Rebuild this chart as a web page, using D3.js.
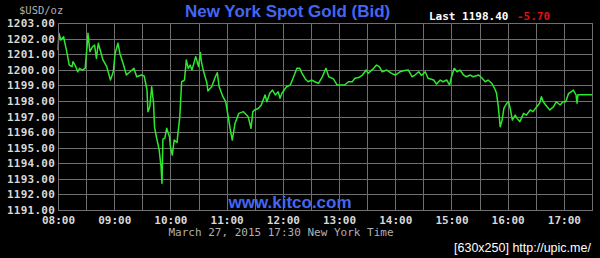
<!DOCTYPE html>
<html>
<head>
<meta charset="utf-8">
<script src="https://cdn.jsdelivr.net/npm/d3@7"></script>
<style>
  html, body { margin: 0; padding: 0; background: #000; }
  svg { display: block; }
</style>
</head>
<body>
<div id="wrapper"></div>
<script>
// Spot gold bid, March 27 2015, New York time
const times = [
  '08:00','08:01','08:03','08:06','08:07','08:09','08:12','08:15','08:16','08:19',
  '08:21','08:23','08:26','08:29','08:31','08:32','08:34','08:37','08:39','08:41',
  '08:43','08:45','08:48','08:52','08:56','08:59','09:01','09:04','09:06','09:10',
  '09:13','09:17','09:21','09:24','09:29','09:32','09:35','09:36','09:38','09:40',
  '09:42','09:43','09:45','09:48','09:50','09:51','09:52','09:54','09:56','09:59',
  '10:00','10:02','10:04','10:07','10:08','10:10','10:12','10:15','10:17','10:19',
  '10:21','10:23','10:25','10:27','10:30','10:32','10:33','10:35','10:39','10:40',
  '10:44','10:48','10:50','10:52','10:56','10:59','11:02','11:04','11:06','11:09',
  '11:13','11:18','11:23','11:26','11:28','11:30','11:34','11:37','11:41','11:43',
  '11:46','11:49','11:52','11:55','11:57','11:59','12:04','12:08','12:11','12:15',
  '12:18','12:20','12:24','12:27','12:31','12:34','12:38','12:42','12:46','12:49',
  '12:54','12:58','13:03','13:06','13:10','13:14','13:17','13:21','13:25','13:29',
  '13:31','13:37','13:40','13:43','13:46','13:51','13:56','14:00','14:05','14:10',
  '14:14','14:18','14:21','14:25','14:28','14:32','14:35','14:41','14:44','14:48',
  '14:51','14:55','14:58','15:00','15:03','15:06','15:09','15:13','15:16','15:20',
  '15:23','15:29','15:32','15:36','15:39','15:43','15:46','15:48','15:50','15:52',
  '15:54','15:56','15:59','16:01','16:03','16:05','16:08','16:10','16:13','16:17',
  '16:20','16:24','16:27','16:31','16:34','16:36','16:38','16:42','16:45','16:49',
  '16:52','16:56','16:59','17:02','17:05','17:08','17:10','17:13','17:14','17:15',
  '17:30'
]
const prices = [
  1201.27,1202.34,1201.91,1202.12,1201.80,1201.27,1200.30,1200.20,1200.52,1200.20,
  1199.87,1200.09,1199.98,1200.09,1201.48,1202.34,1201.16,1201.48,1201.59,1200.73,
  1201.70,1201.27,1200.63,1200.20,1199.34,1199.87,1201.06,1201.70,1201.06,1200.30,
  1199.66,1199.87,1200.09,1199.55,1199.66,1199.60,1198.70,1197.31,1197.63,1198.91,
  1197.85,1196.34,1195.70,1194.85,1193.78,1192.71,1195.55,1195.60,1196.24,1195.70,
  1195.06,1194.53,1195.49,1195.33,1195.88,1196.99,1199.23,1199.34,1200.63,1200.09,
  1200.30,1199.98,1200.41,1200.84,1200.20,1201.11,1200.52,1199.98,1199.13,1198.64,
  1198.91,1199.55,1199.81,1198.91,1198.27,1197.95,1196.88,1196.13,1195.49,1196.56,
  1197.20,1197.31,1196.99,1196.24,1197.31,1197.42,1197.53,1197.74,1198.38,1197.95,
  1198.49,1198.70,1198.38,1198.59,1198.17,1198.49,1198.91,1199.02,1199.47,1200.09,
  1200.09,1199.82,1199.41,1199.23,1199.34,1199.23,1199.13,1199.53,1200.09,1199.55,
  1199.41,1199.02,1199.02,1199.02,1199.23,1199.23,1199.45,1199.50,1199.66,1199.98,
  1199.77,1200.09,1200.30,1200.20,1199.87,1199.98,1199.77,1199.66,1199.87,1199.95,
  1199.98,1199.55,1199.66,1199.87,1199.63,1199.87,1199.45,1199.34,1199.08,1199.34,
  1199.23,1199.34,1199.02,1199.55,1200.09,1199.87,1199.98,1199.66,1199.55,1199.66,
  1199.55,1199.66,1199.50,1199.23,1199.34,1199.13,1198.81,1198.51,1197.63,1196.34,
  1196.77,1197.53,1197.85,1197.95,1197.42,1196.77,1197.09,1196.88,1196.67,1197.20,
  1197.09,1197.42,1197.31,1197.63,1197.85,1198.27,1197.95,1197.63,1197.42,1197.63,
  1197.95,1197.74,1197.95,1197.95,1198.49,1198.59,1198.70,1198.38,1197.85,1198.40,
  1198.40
]
const hourTicks = ['08:00','09:00','10:00','11:00','12:00','13:00','14:00','15:00','16:00','17:00']
const timeRange = ['08:00', '17:30']
const priceRange = [1191, 1203]

const lastPrice = '1198.40'
const change = '-5.70'

async function drawChart() {
  const parseTime = d3.timeParse('%H:%M')
  const data = times.map((t, i) => ({ time: parseTime(t), price: prices[i] }))

  const xAccessor = d => d.time
  const yAccessor = d => d.price

  const dimensions = {
    width: 600,
    height: 258,
    margins: {
      top: 23,
      right: 8,
      bottom: 48,
      left: 58,
    }
  }
  dimensions.boundedWidth = dimensions.width
    - dimensions.margins.left
    - dimensions.margins.right
  dimensions.boundedHeight = dimensions.height
    - dimensions.margins.top
    - dimensions.margins.bottom

  const wrapper = d3.select('#wrapper')
    .append('svg')
      .attr('width', dimensions.width)
      .attr('height', dimensions.height)
      .style('background', '#000')

  const bounds = wrapper.append('g')
      .attr('transform', `translate(${dimensions.margins.left},${dimensions.margins.top})`)

  const xScale = d3.scaleTime()
      .domain(timeRange.map(parseTime))
      .range([0, dimensions.boundedWidth])

  const yScale = d3.scaleLinear()
      .domain(priceRange)
      .range([dimensions.boundedHeight, 0])

  const gridColor = '#6f6f6f'
  const mono = "'DejaVu Sans Mono', 'Liberation Mono', monospace"

  // Grid
  const halfHours = d3.timeMinute.every(30).range(xScale.domain()[0], d3.timeMinute.offset(xScale.domain()[1], 1))
  bounds.append('g')
    .selectAll('line')
    .data(halfHours)
    .join('line')
      .attr('x1', d => Math.round(xScale(d)) + 0.5)
      .attr('x2', d => Math.round(xScale(d)) + 0.5)
      .attr('y1', 0)
      .attr('y2', dimensions.boundedHeight)
      .attr('stroke', gridColor)

  bounds.append('g')
    .selectAll('line')
    .data(d3.range(priceRange[0], priceRange[1] + 1))
    .join('line')
      .attr('x1', 0)
      .attr('x2', dimensions.boundedWidth)
      .attr('y1', d => Math.round(yScale(d)) + 0.5)
      .attr('y2', d => Math.round(yScale(d)) + 0.5)
      .attr('stroke', gridColor)

  // Draw data
  const lineGenerator = d3.line()
      .x(d => xScale(xAccessor(d)))
      .y(d => yScale(yAccessor(d)))

  bounds.append('path')
      .attr('d', lineGenerator(data))
      .attr('fill', 'none')
      .attr('stroke', '#2ee82e')
      .attr('stroke-width', 1.5)
      .attr('stroke-linejoin', 'round')

  // Axes
  const yAxisGenerator = d3.axisLeft()
      .scale(yScale)
      .tickValues(d3.range(priceRange[0], priceRange[1] + 1))
      .tickFormat(d3.format('.2f'))
      .tickSize(0)
      .tickPadding(3)

  const yAxis = bounds.append('g')
      .call(yAxisGenerator)
  yAxis.select('.domain').remove()
  yAxis.selectAll('text')
      .attr('fill', '#d8d8d8')
      .style('font-family', mono)
      .style('font-weight', 'bold')
      .style('font-size', '11px')
      .style('letter-spacing', '0.25px')

  const xAxisGenerator = d3.axisBottom()
      .scale(xScale)
      .tickValues(hourTicks.map(parseTime))
      .tickFormat(d3.timeFormat('%H:%M'))
      .tickSize(0)
      .tickPadding(6)

  const xAxis = bounds.append('g')
      .attr('transform', `translate(0,${dimensions.boundedHeight})`)
      .call(xAxisGenerator)
  xAxis.select('.domain').remove()
  xAxis.selectAll('text')
      .attr('fill', '#d8d8d8')
      .style('font-family', mono)
      .style('font-weight', 'bold')
      .style('font-size', '11px')

  // Frame
  bounds.append('rect')
      .attr('x', 0.5)
      .attr('y', 0.5)
      .attr('width', dimensions.boundedWidth)
      .attr('height', dimensions.boundedHeight)
      .attr('fill', 'none')
      .attr('stroke', gridColor)

  // Peripherals
  wrapper.append('text')
      .attr('x', 19)
      .attr('y', 14)
      .attr('fill', '#b0b0b0')
      .style('font-family', mono)
      .style('font-size', '10.5px')
      .text('$USD/oz')

  wrapper.append('text')
      .attr('x', 185)
      .attr('y', 17)
      .attr('fill', '#4466f4')
      .style('font-family', "'Liberation Sans', Arial, sans-serif")
      .style('font-weight', 'bold')
      .style('font-size', '17px')
      .text('New York Spot Gold (Bid)')

  wrapper.append('text')
      .attr('x', 429)
      .attr('y', 19.5)
      .attr('fill', '#ffffff')
      .style('font-family', mono)
      .style('font-weight', 'bold')
      .style('font-size', '11px')
      .text(`Last ${lastPrice}`)

  wrapper.append('text')
      .attr('x', 517)
      .attr('y', 19.5)
      .attr('fill', '#e01010')
      .style('font-family', mono)
      .style('font-weight', 'bold')
      .style('font-size', '11px')
      .text(change)

  wrapper.append('text')
      .attr('x', 290)
      .attr('y', 208)
      .attr('text-anchor', 'middle')
      .attr('fill', '#4466f4')
      .style('font-family', "'Liberation Sans', Arial, sans-serif")
      .style('font-weight', 'bold')
      .style('font-size', '17px')
      .text('www.kitco.com')

  wrapper.append('text')
      .attr('x', 281)
      .attr('y', 236)
      .attr('text-anchor', 'middle')
      .attr('fill', '#b0b0b0')
      .style('font-family', mono)
      .style('font-size', '11px')
      .text('March 27, 2015 17:30 New York Time')

  wrapper.append('text')
      .attr('x', 454)
      .attr('y', 252)
      .attr('fill', '#ffffff')
      .style('font-family', "'Liberation Sans', sans-serif")
      .style('font-size', '12.5px')
      .text('[630x250] http://upic.me/')
}

drawChart()
</script>
</body>
</html>
